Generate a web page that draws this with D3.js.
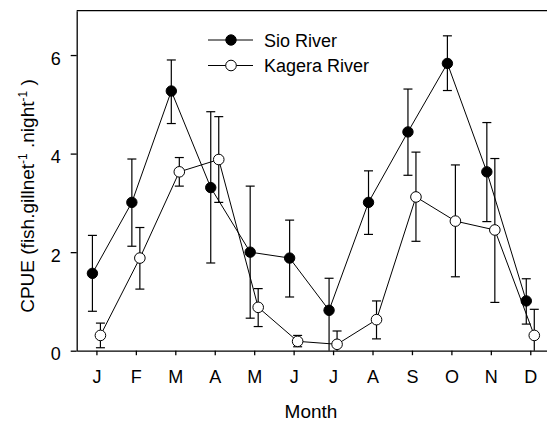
<!DOCTYPE html>
<meta charset="utf-8">
<head>
  <title>CPUE by month</title>
  <script src="https://cdnjs.cloudflare.com/ajax/libs/d3/7.8.5/d3.min.js"></script>
</head>
<style>
  body {
    margin: 0;
    background: white;
    font-family: "Liberation Sans", Arial, sans-serif;
  }
  svg { display: block; overflow: hidden; }
</style>
<body>
<div id="chart"></div>
<script>
  // monthly CPUE, mean with upper / lower error bar ends
  var months = ["J", "F", "M", "A", "M", "J", "J", "A", "S", "O", "N", "D"];
  var yTicks = [0, 2, 4, 6];

  var sioMean = [1.57, 3.01, 5.27, 3.31, 2.00, 1.88, 0.82, 3.01, 4.44, 5.83, 3.63, 1.01];
  var sioHigh = [2.34, 3.89, 5.90, 4.85, 3.34, 2.65, 1.47, 3.65, 5.31, 6.39, 4.63, 1.46];
  var sioLow  = [0.80, 2.12, 4.61, 1.78, 0.66, 1.09, 0.00, 2.36, 3.56, 5.28, 2.62, 0.54];

  var kagMean = [0.31, 1.88, 3.63, 3.88, 0.88, 0.19, 0.13, 0.63, 3.12, 2.63, 2.45, 0.31];
  var kagHigh = [0.56, 2.50, 3.92, 4.75, 1.26, 0.31, 0.40, 1.01, 4.03, 3.77, 3.90, 0.84];
  var kagLow  = [0.06, 1.25, 3.34, 3.01, 0.49, 0.08, 0.00, 0.24, 2.22, 1.50, 0.98, 0.00];

  var WIDTH = 547, HEIGHT = 424;
  var plotLeft = 76.7, plotRight = 550, plotTop = 10.7, plotBottom = 350.7;

  var svg = d3.select("#chart").append("svg")
    .attr("width", WIDTH)
    .attr("height", HEIGHT);

  var x = d3.scaleLinear().domain([-0.5, 11.5]).range([plotLeft, plotRight]);
  var y = d3.scaleLinear().domain([0, 6.9]).range([plotBottom, plotTop]);

  // frame top line
  svg.append("line")
    .attr("x1", plotLeft).attr("x2", plotRight)
    .attr("y1", plotTop).attr("y2", plotTop)
    .attr("stroke", "black").attr("stroke-width", 1.3);

  var yAxis = svg.append("g")
    .attr("transform", "translate(" + plotLeft + ",0)")
    .call(d3.axisLeft(y).tickValues(yTicks).tickFormat(d3.format("d"))
      .tickSize(6).tickSizeOuter(0).tickPadding(10));
  yAxis.selectAll("text").attr("dy", "0.5em");

  var xAxis = svg.append("g")
    .attr("transform", "translate(0," + plotBottom + ")")
    .call(d3.axisBottom(x).tickValues(d3.range(12)).tickFormat(function(i) { return months[i]; })
      .tickSize(4.5).tickSizeOuter(0).tickPadding(15.5));

  svg.selectAll(".domain, .tick line").attr("stroke", "black").attr("stroke-width", 1.3);
  svg.selectAll(".tick text")
    .attr("fill", "black")
    .style("font-family", "Liberation Sans, Arial, sans-serif")
    .style("font-size", "18px");

  var series = [
    { name: "Sio River", mean: sioMean, hi: sioHigh, lo: sioLow, off: -4, fill: "black", r: 5.2 },
    { name: "Kagera River", mean: kagMean, hi: kagHigh, lo: kagLow, off: 4, fill: "white", r: 5.3 }
  ];

  var line = d3.line()
    .x(function(d) { return d.x; })
    .y(function(d) { return d.y; });

  series.forEach(function(s) {
    var pts = s.mean.map(function(v, i) { return { x: x(i) + s.off, y: y(v), i: i }; });
    svg.append("path")
      .datum(pts)
      .attr("d", line)
      .attr("fill", "none")
      .attr("stroke", "black")
      .attr("stroke-width", 1);

    var eb = svg.append("g").attr("stroke", "black").attr("stroke-width", 1.2);
    pts.forEach(function(p) {
      var yh = y(s.hi[p.i]), yl = y(s.lo[p.i]);
      eb.append("line").attr("x1", p.x).attr("x2", p.x).attr("y1", yh).attr("y2", yl);
      eb.append("line").attr("x1", p.x - 4.5).attr("x2", p.x + 4.5).attr("y1", yh).attr("y2", yh);
      if (s.lo[p.i] > 0)
        eb.append("line").attr("x1", p.x - 4.5).attr("x2", p.x + 4.5).attr("y1", yl).attr("y2", yl);
    });
  });

  series.forEach(function(s) {
    svg.append("g").selectAll("circle")
      .data(s.mean)
      .enter().append("circle")
      .attr("cx", function(d, i) { return x(i) + s.off; })
      .attr("cy", function(d) { return y(d); })
      .attr("r", s.r)
      .attr("fill", s.fill)
      .attr("stroke", "black")
      .attr("stroke-width", 1);
  });

  // legend
  var legY = [40, 65.5];
  series.forEach(function(s, k) {
    var g = svg.append("g").attr("transform", "translate(0," + legY[k] + ")");
    g.append("line").attr("x1", 208).attr("x2", 253).attr("y1", 0).attr("y2", 0)
      .attr("stroke", "black").attr("stroke-width", 1);
    g.append("circle").attr("cx", 231).attr("cy", 0).attr("r", s.r)
      .attr("fill", s.fill).attr("stroke", "black");
    g.append("text").attr("x", 264).attr("y", 6.5)
      .style("font-size", "18px").text(s.name);
  });

  // axis titles
  svg.append("text")
    .attr("x", 311).attr("y", 418)
    .attr("text-anchor", "middle")
    .style("font-size", "19px")
    .text("Month");

  var yt = svg.append("text")
    .attr("transform", "translate(34,196) rotate(-90)")
    .attr("text-anchor", "middle")
    .style("font-size", "19px");
  yt.append("tspan").text("CPUE (fish.gillnet");
  yt.append("tspan").attr("baseline-shift", "super").style("font-size", "12px").text("-1");
  yt.append("tspan").text(" .night");
  yt.append("tspan").attr("baseline-shift", "super").style("font-size", "12px").text("-1");
  yt.append("tspan").text(" )");
</script>
</body>
